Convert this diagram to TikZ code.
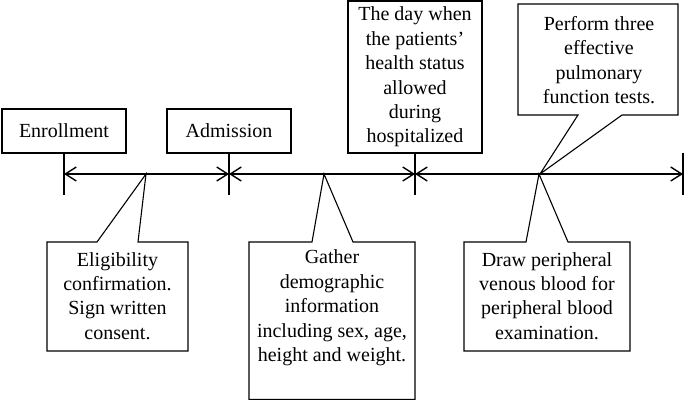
\documentclass[tikz,border=0pt]{standalone}
\usepackage{fontspec}
\setmainfont{Liberation Serif}
\usetikzlibrary{arrows.meta}
\begin{document}
\begin{tikzpicture}[x=1pt,y=-1pt,
  lbl/.style={align=center,font=\fontsize{20}{24.4}\selectfont,inner sep=0pt},
  evbox/.style={draw,line width=1.1pt,inner sep=0pt,font=\fontsize{20}{24.4}\selectfont,align=center},
  callline/.style={draw,line width=1.1pt,line join=miter},
  barb/.tip={Straight Barb[length=11pt,width=14pt,line width=1.4pt]},
  axis/.style={line width=1.7pt,barb-barb},
  ticker/.style={line width=1.8pt}]
\useasboundingbox (0,0) rectangle (685,401);

% event boxes
\node[evbox,minimum width=124,minimum height=44] (enr) at (64,131) {Enrollment};
\node[evbox,minimum width=124,minimum height=44] (adm) at (229,131) {Admission};
\node[evbox,minimum width=134,minimum height=152] (day) at (415,77) {The day when\\the patients'\\health status\\allowed\\during\\hospitalized};

% timeline coordinates
\coordinate (t0) at (64,174);
\coordinate (t1) at (229,174);
\coordinate (t2) at (415,174);
\coordinate (t3) at (683,174);
\coordinate (e3) at (683,153);
\coordinate (b0) at (64,195);
\coordinate (b1) at (229,195);
\coordinate (b2) at (415,195);
\coordinate (b3) at (683,195);

% callout apexes
\coordinate (p1) at (146,174);
\coordinate (p2) at (324,174);
\coordinate (p3) at (539,174);
\coordinate (p4) at (540,174);

% callouts
\path[callline] (47,242) -- (97,242) -- (p1) -- (138,242) -- (188,242) -- (188,351) -- (47,351) -- cycle;
\node[lbl] (elig) at (117.5,296) {Eligibility\\confirmation.\\Sign written\\consent.};

\path[callline] (249,242) -- (312,242) -- (p2) -- (353,242) -- (415,242) -- (415,399.4) -- (249,399.4) -- cycle;
\node[lbl] (gath) at (332,308) {Gather\\demographic\\information\\including sex, age,\\height and weight.};

\path[callline] (464,242) -- (526,242) -- (p3) -- (568,242) -- (630,242) -- (630,351) -- (464,351) -- cycle;
\node[lbl] (draw) at (547,296) {Draw peripheral\\venous blood for\\peripheral blood\\examination.};

\path[callline] (518,4) -- (678,4) -- (678,115) -- (622,115) -- (p4) -- (578,115) -- (518,115) -- cycle;
\node[lbl] (perf) at (599,60) {Perform three\\effective\\pulmonary\\function tests.};

% ticks
\draw[ticker] (enr.south) -- (b0);
\draw[ticker] (adm.south) -- (b1);
\draw[ticker] (day.south) -- (b2);
\draw[ticker] (e3) -- (b3);

% timeline
\draw[axis] (t0) -- (t1);
\draw[axis] (t1) -- (t2);
\draw[axis] (t2) -- (t3);
\end{tikzpicture}
\end{document}
